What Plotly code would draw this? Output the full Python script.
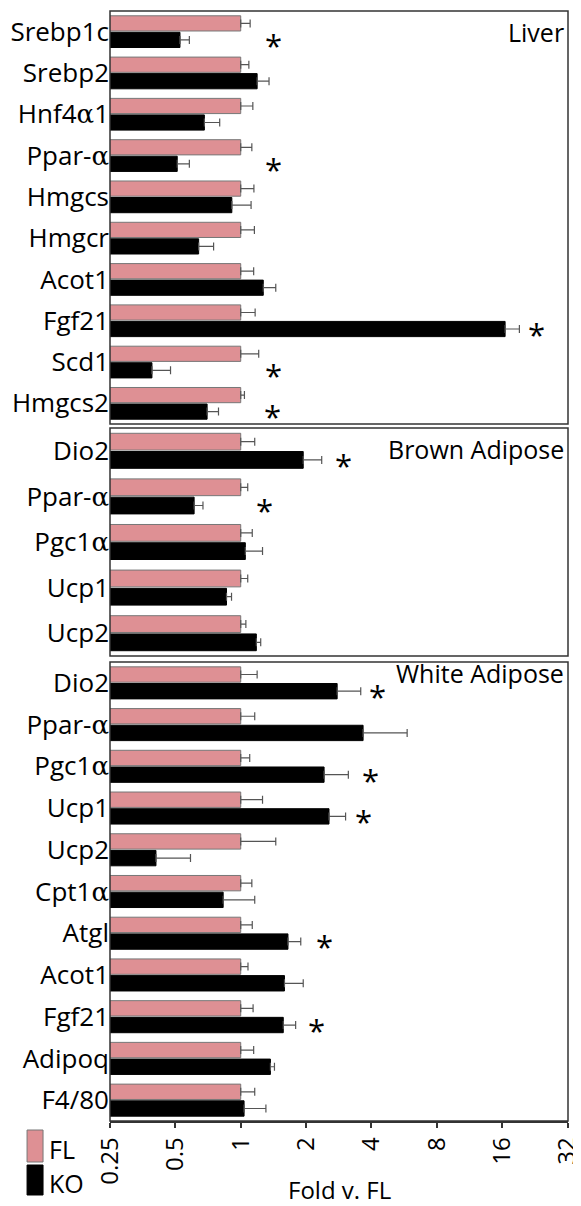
import math
import plotly.graph_objects as go

# ---------------- data ----------------
liver_genes = ["Srebp1c", "Srebp2", "Hnf4α1", "Ppar-α", "Hmgcs", "Hmgcr", "Acot1", "Fgf21", "Scd1", "Hmgcs2"]
liver_fl = [1.0, 1.0, 1.0, 1.0, 1.0, 1.0, 1.0, 1.0, 1.0, 1.0]
liver_fl_err = [0.105, 0.09, 0.137, 0.125, 0.15, 0.156, 0.147, 0.165, 0.21, 0.04]
liver_ko = [0.525, 1.19, 0.68, 0.51, 0.91, 0.64, 1.27, 16.5, 0.39, 0.70]
liver_ko_err = [0.055, 0.16, 0.12, 0.07, 0.206, 0.11, 0.18, 2.7, 0.085, 0.09]
liver_sig = {"Srebp1c": 1.41, "Ppar-α": 1.41, "Fgf21": 23.0, "Scd1": 1.42, "Hmgcs2": 1.40}

brown_genes = ["Dio2", "Ppar-α", "Pgc1α", "Ucp1", "Ucp2"]
brown_fl = [1.0, 1.0, 1.0, 1.0, 1.0]
brown_fl_err = [0.16, 0.077, 0.13, 0.077, 0.056]
brown_ko = [1.94, 0.61, 1.05, 0.86, 1.18]
brown_ko_err = [0.42, 0.06, 0.21, 0.047, 0.056]
brown_sig = {"Dio2": 2.96, "Ppar-α": 1.28}

white_genes = ["Dio2", "Ppar-α", "Pgc1α", "Ucp1", "Ucp2", "Cpt1α", "Atgl", "Acot1", "Fgf21", "Adipoq", "F4/80"]
white_fl = [1.0, 1.0, 1.0, 1.0, 1.0, 1.0, 1.0, 1.0, 1.0, 1.0, 1.0]
white_fl_err = [0.19, 0.16, 0.10, 0.26, 0.45, 0.125, 0.13, 0.08, 0.14, 0.147, 0.16]
white_ko = [2.78, 3.66, 2.42, 2.55, 0.407, 0.83, 1.65, 1.59, 1.57, 1.37, 1.036]
white_ko_err = [0.79, 2.18, 0.71, 0.49, 0.18, 0.33, 0.24, 0.35, 0.22, 0.06, 0.27]
white_sig = {"Dio2": 4.25, "Pgc1α": 3.98, "Ucp1": 3.66, "Atgl": 2.43, "Fgf21": 2.24}

x_ticks = [0.25, 0.5, 1, 2, 4, 8, 16, 32]
x_tick_labels = ["0.25", "0.5", "1", "2", "4", "8", "16", "32"]

panel_titles = ["Liver", "Brown Adipose", "White Adipose"]

# ---------------- style / layout ----------------
# the page body adds an 8px offset; positions below are given in window pixels
OFF = 8
W, H = 581 + OFF, 1206 - OFF
AX_L, AX_R, AX_T, AX_B = 110, 568.3, 11, 1121   # target pixel extents in the window
ML = AX_L - OFF
MR = W - (AX_R - OFF)
MT = AX_T - OFF
MB = H - (AX_B - OFF)
PW, PH = W - ML - MR, H - MT - MB
FONT = "Open Sans"
FL_COLOR = "#DE9094"
KO_COLOR = "#000000"
ERR_COLOR = "#555555"


def py2paper(py):
    return ((AX_B - OFF) - (py - OFF)) / PH


def px2paper(px):
    return ((px - OFF) - ML) / PW


# panel pixel extents (top, bottom) in window pixels
panels_px = [(11, 424), (428, 656), (662, 1121)]
domains = [[py2paper(b), py2paper(t)] for (t, b) in panels_px]


def alpha_html(s):
    return s.replace("α", "<span style=\"font-family:'DejaVu Serif'\">α</span>")


panels = [
    (liver_genes, liver_fl, liver_fl_err, liver_ko, liver_ko_err, liver_sig),
    (brown_genes, brown_fl, brown_fl_err, brown_ko, brown_ko_err, brown_sig),
    (white_genes, white_fl, white_fl_err, white_ko, white_ko_err, white_sig),
]

fig = go.Figure()
annotations = []
shapes = []
layout_axes = {}

for i, (genes, fl, fl_err, ko, ko_err, sig) in enumerate(panels):
    yname = "y" if i == 0 else f"y{i + 1}"
    ylay = "yaxis" if i == 0 else f"yaxis{i + 1}"
    for name, vals, errs, col, lc in [("FL", fl, fl_err, FL_COLOR, "#777777"),
                                      ("KO", ko, ko_err, KO_COLOR, "#000000")]:
        fig.add_trace(go.Bar(
            y=genes, x=vals, orientation="h", name=name,
            xaxis="x", yaxis=yname, showlegend=False,
            marker=dict(color=col, line=dict(color=lc, width=1)),
            error_x=dict(type="data", array=errs, arrayminus=[0] * len(errs),
                         symmetric=False, color=ERR_COLOR, thickness=1.2, width=4),
        ))
    n = len(genes)
    layout_axes[ylay] = dict(
        domain=domains[i], anchor="x", type="category",
        categoryorder="array", categoryarray=genes,
        range=[n - 0.5, -0.5],
        tickvals=genes, ticktext=[alpha_html(g) for g in genes],
        tickfont=dict(family=FONT, size=26, color="black"),
        ticks="", ticklabelstandoff=0, automargin=False,
        showline=False, showgrid=False, zeroline=False,
    )
    # panel frame
    shapes.append(dict(type="rect", xref="paper", yref="paper",
                       x0=0, x1=1, y0=domains[i][0], y1=domains[i][1],
                       line=dict(color="#333333", width=1.5), layer="above"))
    # significance stars
    for g, xv in sig.items():
        annotations.append(dict(
            x=math.log10(xv), y=genes.index(g) + 0.22, xref="x", yref=yname,
            text="*", showarrow=False, font=dict(family=FONT, size=31, color="black"),
            xanchor="center", yanchor="middle", yshift=-4,
        ))

# panel titles (window pixel y of text middle)
title_pos = [32, 449, 673]
for t, ypx in zip(panel_titles, title_pos):
    annotations.append(dict(
        x=px2paper(566), y=py2paper(ypx), xref="paper", yref="paper",
        text=t, showarrow=False, font=dict(family=FONT, size=25, color="black"),
        xanchor="right", yanchor="middle",
    ))

# x-axis title
annotations.append(dict(
    x=0.5, y=py2paper(1189), xref="paper", yref="paper",
    text="Fold v. FL", showarrow=False, font=dict(family=FONT, size=24, color="black"),
    xanchor="center", yanchor="middle",
))

# legend (drawn)
for (lbl, col, lc, y0, y1) in [("FL", FL_COLOR, "#777777", 1130, 1162),
                               ("KO", KO_COLOR, "#000000", 1165, 1195)]:
    shapes.append(dict(type="rect", xref="paper", yref="paper",
                       x0=px2paper(27), x1=px2paper(43),
                       y0=py2paper(y1), y1=py2paper(y0),
                       fillcolor=col, line=dict(color=lc, width=1)))
    annotations.append(dict(
        x=px2paper(47), y=py2paper((y0 + y1) / 2 + 3), xref="paper", yref="paper",
        text=lbl, showarrow=False, font=dict(family=FONT, size=25, color="black"),
        xanchor="left", yanchor="middle",
    ))

fig.update_layout(
    width=W, height=H,
    margin=dict(l=ML, r=MR, t=MT, b=MB, pad=0, autoexpand=False),
    paper_bgcolor="white", plot_bgcolor="white",
    barmode="group", bargap=0.2, bargroupgap=0.08,
    showlegend=False,
    xaxis=dict(
        type="log", domain=[0, 1], anchor="y3", automargin=False,
        range=[math.log10(0.25), math.log10(32) + 0.002],
        tickvals=x_ticks, ticktext=x_tick_labels, tickangle=-90,
        ticklabeloverflow="allow",
        tickfont=dict(family=FONT, size=24, color="black"),
        ticks="outside", ticklen=5, tickcolor="#333333", tickwidth=1.5,
        showline=True, linecolor="#333333", linewidth=1.5,
        showgrid=False, zeroline=False,
    ),
    shapes=shapes, annotations=annotations,
    font=dict(family=FONT, color="black"),
    **layout_axes,
)

fig.write_html("out.html")
